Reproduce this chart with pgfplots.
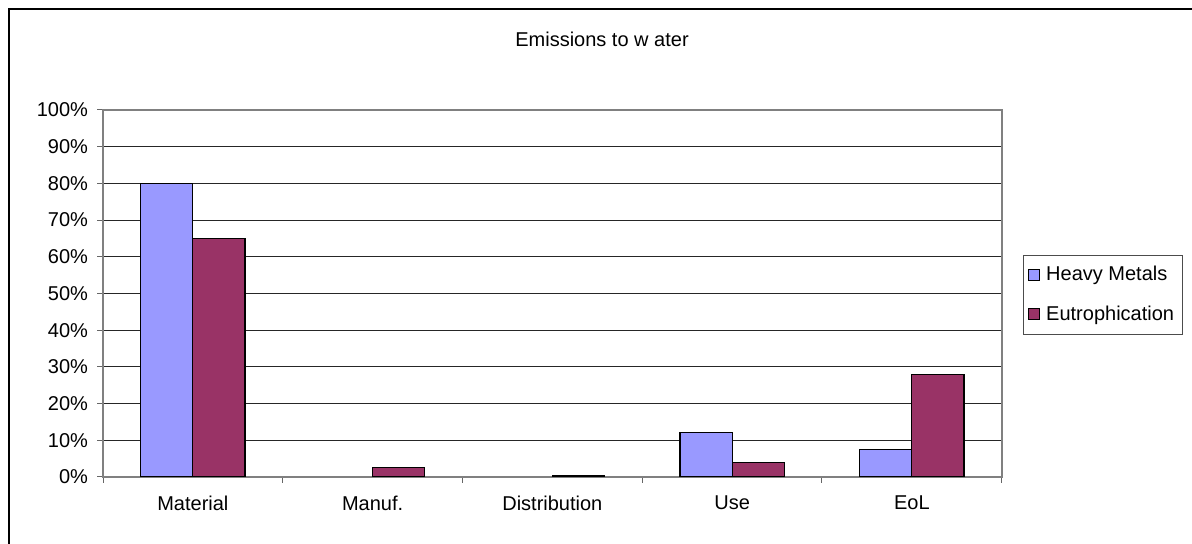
\documentclass[border=0pt]{standalone}
\usepackage{pgfplots}
\pgfplotsset{compat=1.18}
\usepackage{fontspec}
\setmainfont{Liberation Sans}
\definecolor{hm}{HTML}{9999FF}
\definecolor{eu}{HTML}{993366}
\begin{document}
\fontsize{10}{12}\selectfont
\begin{tikzpicture}
\useasboundingbox (0,0) rectangle (596pt,272pt);
\draw[line width=1pt] (4.5pt,-10pt) -- (4.5pt,267.5pt) -- (610pt,267.5pt);
\node[anchor=base, font=\fontsize{10}{12}\selectfont] at (301pt,248.5pt) {Emissions to w ater};
\begin{axis}[
  at={(51.5pt,33.5pt)}, anchor=south west,
  scale only axis, width=449.35pt, height=183.5pt,
  xmin=-0.5, xmax=4.5, ymin=0, ymax=100,
  axis line style={draw=black!50, line width=0.9pt},
  xtick={-0.5,0.5,1.5,2.5,3.5,4.5},
  xticklabels={Material,Manuf.,Distribution,Use,EoL,},
  x tick label as interval,
  ytick={0,10,...,100},
  yticklabels={0\%,10\%,20\%,30\%,40\%,50\%,60\%,70\%,80\%,90\%,100\%},
  tick align=outside, major tick length=3pt,
  tick style={black!60, line width=0.5pt},
  xtick pos=bottom, ytick pos=left,
  ymajorgrids, grid style={black!85, line width=0.5pt},
  every tick label/.append style={font=\fontsize{10}{12}\selectfont},
  yticklabel style={xshift=-1pt},
  xticklabel style={yshift=-3pt},
  legend style={at={(1.0237,0.606)}, anchor=north west, draw=black!70, line width=0.5pt,
    font=\fontsize{10}{12}\selectfont, row sep=7pt, inner xsep=2pt, inner ysep=3.5pt},
  legend cell align=left,
  legend image code/.code={\draw[#1, line width=0.5pt] (0pt,-2.75pt) rectangle (5.5pt,2.75pt); \path (6.8pt,0pt);},
]
\addplot[ybar, bar width=0.29, bar shift=-0.145, fill=hm, draw=black, line width=0.6pt]
  coordinates {(0,80) (3,12.1) (4,7.4)};
\addlegendentry{Heavy Metals}
\addplot[ybar, bar width=0.29, bar shift=0.145, fill=eu, draw=black, line width=0.6pt]
  coordinates {(0,65) (1,2.5) (2,0.5) (3,4) (4,28)};
\addlegendentry{Eutrophication}
\end{axis}
\end{tikzpicture}
\end{document}
